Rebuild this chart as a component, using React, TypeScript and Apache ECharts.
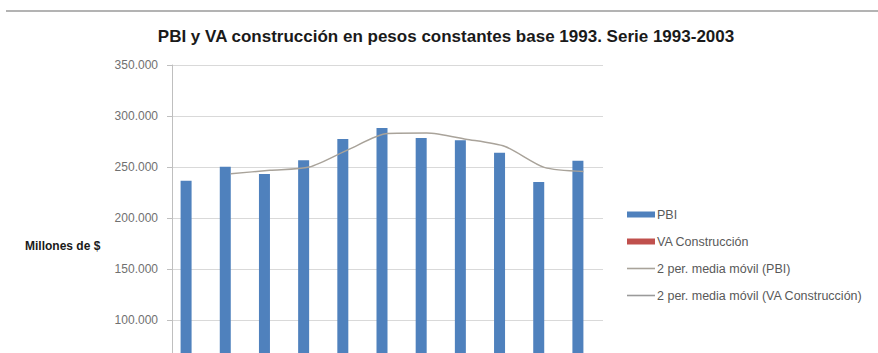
import React, { useEffect, useRef } from "react";
import * as echarts from "echarts";

const years = ["1993", "1994", "1995", "1996", "1997", "1998", "1999", "2000", "2001", "2002", "2003"];
const pbi = [236505, 250308, 243186, 256626, 277441, 288123, 278369, 276173, 263997, 235236, 256024];
const vaConstruccion = [13360, 14910, 13580, 14400, 15840, 16960, 15510, 14720, 12660, 8870, 11800];
const mmPbi = [null, 243407, 246747, 249906, 267034, 282782, 283246, 277271, 270085, 249617, 245630];
const mmVa = [null, 14135, 14245, 13990, 15120, 16400, 16235, 15115, 13690, 10765, 10335];
const yTicks = { min: 0, max: 350000, interval: 50000 };
const firstVisibleLabel = 100000;

const FONT = "'Liberation Sans', Arial, sans-serif";
const LINE_ICON = "path://M0,0 L28,0 L28,1.6 L0,1.6 Z";

function fmt(v: number) {
  return String(v).replace(/\B(?=(\d{3})+(?!\d))/g, ".");
}

export default function App() {
  const ref = useRef<HTMLDivElement>(null);
  useEffect(() => {
    if (!ref.current) return;
    const chart = echarts.init(ref.current, undefined, { renderer: "svg" });
    chart.setOption({
      animation: false,
      backgroundColor: "#ffffff",
      title: {
        text: "PBI y VA construcción en pesos constantes base 1993. Serie 1993-2003",
        left: 446,
        top: 28,
        textAlign: "center",
        padding: 0,
        textStyle: { fontFamily: FONT, fontSize: 17, fontWeight: "bold", color: "#1a1a1a" },
      },
      graphic: [
        {
          type: "line",
          shape: { x1: 6, y1: 11, x2: 878, y2: 11 },
          style: { stroke: "#b3b3b3", lineWidth: 2 },
        },
        {
          type: "text",
          left: 25,
          top: 240,
          style: { text: "Millones de $", fontFamily: FONT, fontSize: 12, fontWeight: "bold", fill: "#1a1a1a" },
        },
      ],
      grid: { left: 172, top: 65, width: 431, height: 357, containLabel: false },
      legend: {
        orient: "vertical",
        left: 627,
        top: 208,
        padding: 0,
        itemWidth: 28,
        itemHeight: 6,
        itemGap: 14,
        textStyle: { fontFamily: FONT, fontSize: 12.5, color: "#595959", padding: [0, 0, 0, -3] },
        data: [
          { name: "PBI", icon: "rect" },
          { name: "VA Construcción", icon: "rect" },
          { name: "2 per. media móvil (PBI)", icon: LINE_ICON },
          { name: "2 per. media móvil (VA Construcción)", icon: LINE_ICON },
        ],
      },
      xAxis: {
        type: "category",
        data: years,
        axisLine: { lineStyle: { color: "#bfbfbf" } },
        axisTick: { show: true, lineStyle: { color: "#bfbfbf" } },
        axisLabel: { show: false },
      },
      yAxis: {
        type: "value",
        min: yTicks.min,
        max: yTicks.max,
        interval: yTicks.interval,
        axisLine: { show: true, lineStyle: { color: "#bfbfbf" } },
        axisTick: { show: true, length: 5, lineStyle: { color: "#bfbfbf" } },
        axisLabel: {
          margin: 14,
          fontFamily: FONT,
          fontSize: 12,
          color: "#707070",
          formatter: (v: number) => (v >= firstVisibleLabel ? fmt(v) : ""),
        },
        splitLine: { lineStyle: { color: "#d9d9d9" } },
      },
      series: [
        {
          name: "PBI",
          type: "bar",
          data: pbi,
          barWidth: 11,
          barGap: "0%",
          itemStyle: { color: "#4f81bd" },
        },
        {
          name: "VA Construcción",
          type: "bar",
          data: vaConstruccion,
          barWidth: 11,
          barGap: "0%",
          itemStyle: { color: "#c0504d" },
        },
        {
          name: "2 per. media móvil (PBI)",
          type: "line",
          data: mmPbi,
          symbol: "none",
          smooth: 0.25,
          lineStyle: { color: "#a9a39a", width: 1.5 },
          itemStyle: { color: "#a9a39a" },
        },
        {
          name: "2 per. media móvil (VA Construcción)",
          type: "line",
          data: mmVa,
          symbol: "none",
          smooth: 0.25,
          lineStyle: { color: "#9a9a9a", width: 1.5 },
          itemStyle: { color: "#9a9a9a" },
        },
      ],
    });
    return () => chart.dispose();
  }, []);
  return (
    <div style={{ position: "fixed", left: 0, top: 0, width: 878, height: 353, overflow: "hidden", background: "#fff" }}>
      <div ref={ref} style={{ width: 878, height: 470 }} />
    </div>
  );
}
